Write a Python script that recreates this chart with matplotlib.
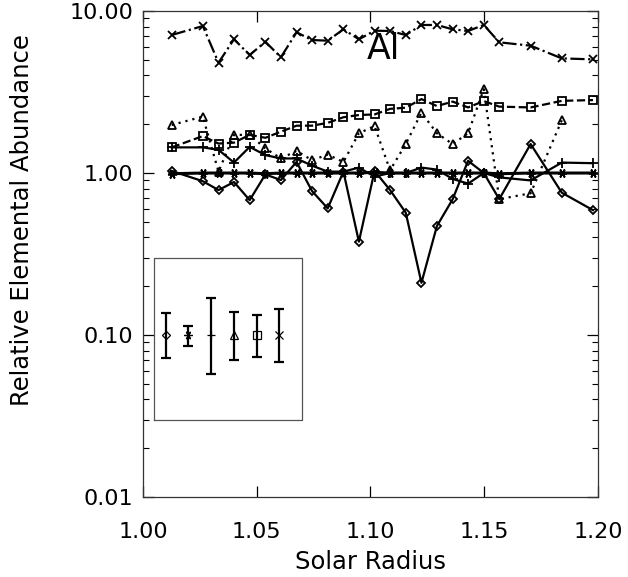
import matplotlib
matplotlib.use("Agg")
import matplotlib.pyplot as plt
import numpy as np

# Radial positions of the measurements (solar radii)
radius = [1.0126, 1.0263, 1.0332, 1.0400, 1.0469, 1.0538, 1.0606, 1.0675,
          1.0743, 1.0812, 1.0881, 1.0949, 1.1018, 1.1086, 1.1155, 1.1224,
          1.1292, 1.1361, 1.1429, 1.1498, 1.1566, 1.1704, 1.1841, 1.1978]

# Relative abundances for each series
cross_vals = [7.11, 8.08, 4.80, 6.69, 5.35, 6.46, 5.18, 7.39, 6.62, 6.56, 7.71, 6.69,
              7.56, 7.53, 7.11, 8.20, 8.20, 7.71, 7.53, 8.20, 6.41, 6.11, 5.10, 5.03]
square_vals = [1.44, 1.69, 1.52, 1.54, 1.72, 1.65, 1.80, 1.96, 1.96, 2.04, 2.21, 2.28,
               2.30, 2.49, 2.53, 2.86, 2.59, 2.76, 2.54, 2.78, 2.57, 2.54, 2.79, 2.82]
triangle_vals = [1.98, 2.23, 1.02, 1.72, 1.72, 1.42, 1.23, 1.37, 1.20, 1.30, 1.17, 1.76,
                 1.95, 1.04, 1.51, 2.36, 1.76, 1.51, 1.76, 3.29, 0.69, 0.75, 2.12]
plus_vals = [1.44, 1.44, 1.39, 1.16, 1.45, 1.29, 1.23, 1.23, 1.11, 1.02, 1.02, 1.08,
             0.95, 1.00, 1.00, 1.08, 1.05, 0.92, 0.86, 1.00, 0.94, 0.90, 1.16, 1.15]
aster_vals = [0.99, 1.00, 1.00, 1.00, 1.00, 0.99, 1.00, 1.00, 1.00, 1.00, 1.00, 1.00,
              1.01, 1.00, 1.00, 1.00, 1.00, 1.00, 1.00, 1.00, 0.99, 1.00, 1.00, 1.00]
diamond_vals = [1.03, 0.89, 0.785, 0.88, 0.68, 0.98, 0.905, 1.17, 0.774, 0.605, 1.02, 0.377,
                1.03, 0.785, 0.569, 0.21, 0.471, 0.688, 1.19, 1.00, 0.69, 1.51, 0.756, 0.59]

# Typical uncertainty key (inset)
key_x = [1.01, 1.02, 1.03, 1.04, 1.05, 1.06]
key_center = [0.10, 0.10, 0.10, 0.10, 0.10, 0.10]
key_low = [0.072, 0.0855, 0.0575, 0.070, 0.0735, 0.068]
key_high = [0.137, 0.114, 0.170, 0.139, 0.133, 0.144]
key_box_x = [1.005, 1.07]
key_box_y = [0.03, 0.30]

xticks = [1.00, 1.05, 1.10, 1.15, 1.20]
yticks = [0.01, 0.10, 1.00, 10.00]

plt.rcParams['font.family'] = ['DejaVu Sans']

fig = plt.figure(figsize=(6.28, 5.77), dpi=100)
ax = fig.add_axes([0.2277, 0.1386, 0.7245, 0.8423])

lw = 1.6
ms = 5.5
mew = 1.3
r = np.array(radius)

ax.plot(r, cross_vals, color='black', lw=lw, ls='-.', marker='x', ms=ms + 0.5, mew=mew)
ax.plot(r, square_vals, color='black', lw=lw, ls='--', marker='s', ms=ms, mew=mew,
        mfc='none')
ax.plot(r[:len(triangle_vals)], triangle_vals, color='black', lw=lw, ls=(0, (1, 2.2)),
        marker='^', ms=ms, mew=mew, mfc='none')
ax.plot(r, aster_vals, color='black', lw=lw + 0.6, ls='-', marker=(6, 2, 90), ms=ms + 1,
        mew=mew)
ax.plot(r, plus_vals, color='black', lw=lw, ls='-', marker='+', ms=ms + 2, mew=mew)
ax.plot(r, diamond_vals, color='black', lw=lw, ls='-', marker='D', ms=ms - 1, mew=mew,
        mfc='none')

# Uncertainty key
ax.plot([key_box_x[0], key_box_x[1], key_box_x[1], key_box_x[0], key_box_x[0]],
        [key_box_y[0], key_box_y[0], key_box_y[1], key_box_y[1], key_box_y[0]],
        color='#555555', lw=0.9)
kc = np.array(key_center)
yerr = [kc - np.array(key_low), np.array(key_high) - kc]
ax.errorbar(key_x, key_center, yerr=yerr, fmt='none', ecolor='black', elinewidth=1.6,
            capsize=3.8, capthick=1.6)
key_markers = [('D', 4, 'none'), ((6, 2, 90), 6, 'black'), ('+', 6, 'black'),
               ('^', 6, 'none'), ('s', 6, 'none'), ('x', 6, 'black')]
for xk, yk, (mk, sz, fc) in zip(key_x, key_center, key_markers):
    ax.plot([xk], [yk], marker=mk, ms=sz, mfc=fc, mec='black', mew=0.9, ls='none')

ax.text(1.1055, 5.85, 'Al', fontsize=25, ha='center', va='center', color='black')

ax.set_yscale('log')
ax.set_xlim(1.0, 1.2)
ax.set_ylim(0.01, 10.0)
ax.set_xticks(xticks)
ax.set_xticklabels([f'{v:.2f}' for v in xticks])
ax.set_yticks(yticks)
ax.set_yticklabels([f'{v:.2f}' for v in yticks])
ax.xaxis.set_minor_locator(matplotlib.ticker.NullLocator())
ax.yaxis.set_minor_locator(matplotlib.ticker.LogLocator(base=10, subs=np.arange(2, 10)))
ax.yaxis.set_minor_formatter(matplotlib.ticker.NullFormatter())
ax.tick_params(which='major', direction='in', length=8, width=0.9, top=True, right=True,
               labelsize=16)
ax.tick_params(which='minor', direction='in', length=4, width=0.8, top=True, right=True)
ax.tick_params(axis='x', which='major', pad=18)
ax.tick_params(axis='y', which='major', pad=7)
for s in ax.spines.values():
    s.set_linewidth(0.9)
    s.set_color('#333333')

ax.set_xlabel('Solar Radius', fontsize=17.5)
ax.set_ylabel('Relative Elemental Abundance', fontsize=17.5)
ax.xaxis.set_label_coords(0.5, -0.134)
ax.yaxis.set_label_coords(-0.265, 0.57)
ax.xaxis.label.set_va('center')
ax.yaxis.label.set_va('center')

fig.savefig('out.png', dpi=100)
